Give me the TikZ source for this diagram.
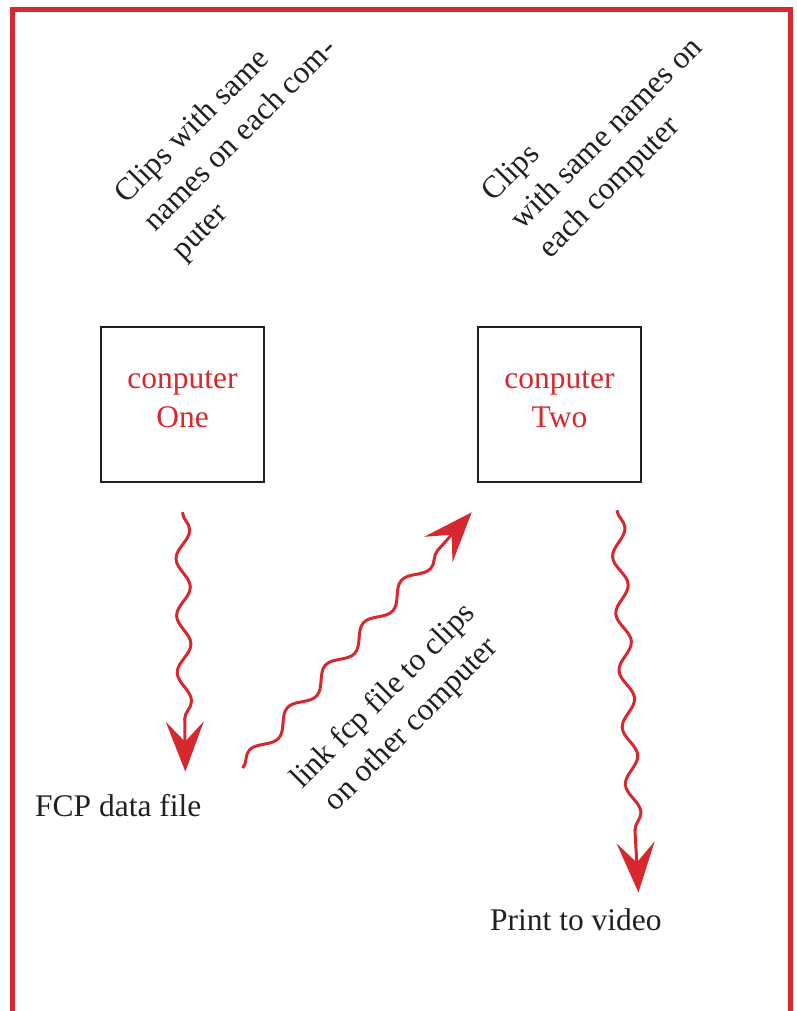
\documentclass[tikz,border=0pt]{standalone}
\usepackage{fontspec}
\setmainfont{Liberation Serif}
\usetikzlibrary{arrows.meta,decorations.pathmorphing}
\definecolor{framered}{RGB}{214,40,46}
\definecolor{inkblack}{RGB}{35,31,32}

\begin{document}
\begin{tikzpicture}[x=1pt, y=-1pt,
  txt/.style={font=\fontsize{31.5}{40}\selectfont, text=inkblack, inner sep=0pt},
  comp/.style={draw=inkblack, line width=2.5pt, minimum width=163pt, minimum height=155pt},
  comptext/.style={font=\fontsize{31.5}{39}\selectfont, text=framered, align=center, inner sep=0pt},
  note/.style={txt, rotate=45, align=left, anchor=north west},
  flow/.style={framered, line width=3pt, decorate,
    decoration={snake, amplitude=7pt, segment length=57pt, post length=40pt},
    -{Stealth[length=50pt, width=38pt, inset=20pt]}}]
\useasboundingbox (0,0) rectangle (796,1011);
% frame, open at the bottom
\draw[framered, line width=5pt] (12.5,1020) -- (12.5,9.5) -- (790.5,9.5) -- (790.5,1020);

\node[comp] (one) at (182.5,404.5) {};
\node[comp] (two) at (559.5,404.5) {};
\node[comptext] (onetext) at ([yshift=5pt]one.center) {conputer\\One};
\node[comptext] (twotext) at ([yshift=5pt]two.center) {conputer\\Two};

\node[note] (clipsone) at (111,189) {Clips with same\\names on each com-\\puter};
\node[note] (clipstwo) at (478,187) {Clips\\with same names on\\each computer};
\node[txt, rotate=45, align=center] (link) at (398,711) {link fcp file to clips\\on other computer};

\node[txt, anchor=base west] (fcp) at (35,816) {FCP data file};
\node[txt, anchor=base west] (video) at (490,930) {Print to video};

\draw[flow] ([yshift=-29pt]one.south) -- ([xshift=67pt,yshift=22pt]fcp.north);
\draw[flow] ([xshift=41pt,yshift=37pt]fcp.east) -- ([xshift=-5pt,yshift=-29pt]two.south west);
\draw[flow] ([xshift=57.5pt,yshift=-27pt]two.south) -- ([xshift=62.5pt,yshift=15.5pt]video.north);
\end{tikzpicture}
\end{document}
